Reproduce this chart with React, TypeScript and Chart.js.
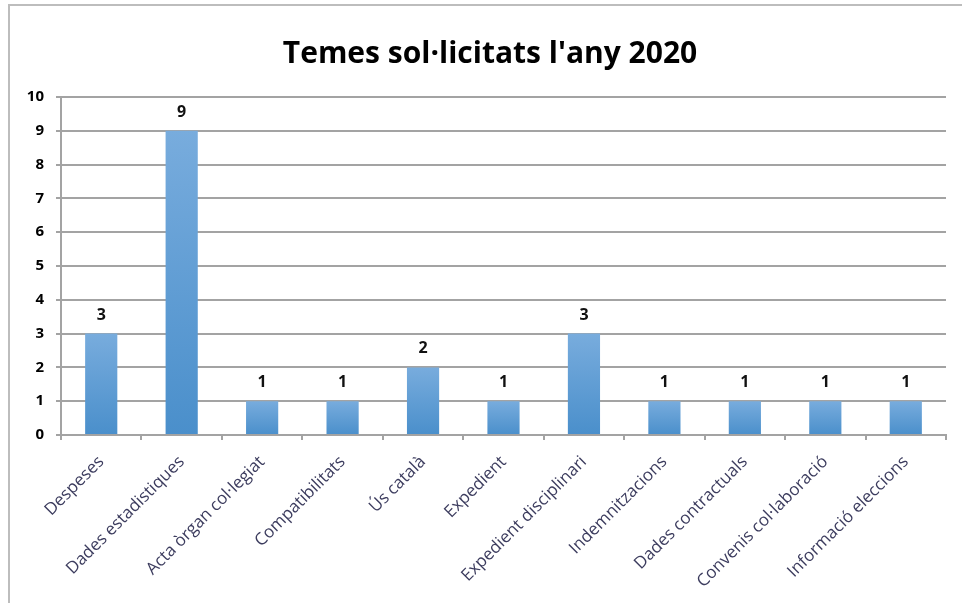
import React, { useEffect, useRef } from "react";
import { Chart, registerables } from "chart.js";

Chart.register(...registerables);

const titleText = "Temes sol·licitats l'any 2020";
const categories = [
  "Despeses",
  "Dades estadistiques",
  "Acta òrgan col·legiat",
  "Compatibilitats",
  "Ús català",
  "Expedient",
  "Expedient disciplinari",
  "Indemnitzacions",
  "Dades contractuals",
  "Convenis col·laboració",
  "Informació eleccions",
];
const values = [3, 9, 1, 1, 2, 1, 3, 1, 1, 1, 1];
const yMin = 0;
const yMax = 10;
const yStep = 1;

const valueLabels = {
  id: "valueLabels",
  afterDatasetsDraw(chart: any) {
    const ctx = chart.ctx;
    const meta = chart.getDatasetMeta(0);
    ctx.save();
    ctx.font = "bold 16px 'Open Sans', sans-serif";
    ctx.fillStyle = "#111111";
    ctx.textAlign = "center";
    ctx.textBaseline = "alphabetic";
    meta.data.forEach((bar: any, i: number) => {
      ctx.fillText(String(values[i]), bar.x, bar.y - 14);
    });
    ctx.restore();
  },
};

const titleDraw = {
  id: "titleDraw",
  afterDraw(chart: any) {
    const ctx = chart.ctx;
    ctx.save();
    ctx.font = "bold 30px 'Open Sans', sans-serif";
    ctx.fillStyle = "#000000";
    ctx.textAlign = "center";
    ctx.textBaseline = "alphabetic";
    ctx.fillText(titleText, 490, 63);
    ctx.restore();
  },
};

export default function App() {
  const ref = useRef<HTMLCanvasElement | null>(null);
  useEffect(() => {
    if (!ref.current) return;
    const chart = new Chart(ref.current, {
      type: "bar",
      data: {
        labels: categories,
        datasets: [
          {
            data: values,
            barPercentage: 0.4,
            categoryPercentage: 1,
            backgroundColor: (c: any) => {
              const ch = c.chart;
              const ys = ch.scales?.y;
              if (!ch.chartArea || !ys || c.raw == null) return "#5b9bd5";
              const top = ys.getPixelForValue(c.raw);
              const bottom = ys.getPixelForValue(0);
              const g = ch.ctx.createLinearGradient(0, top, 0, bottom);
              g.addColorStop(0, "#78acdd");
              g.addColorStop(1, "#4a8fcb");
              return g;
            },
            borderWidth: 0,
          },
        ],
      },
      options: {
        responsive: false,
        animation: false,
        devicePixelRatio: 1,
        layout: { padding: { left: 10, right: 16, top: 97, bottom: 0 } },
        plugins: {
          legend: { display: false },
          tooltip: { enabled: false },
          title: { display: false },
        },
        scales: {
          x: {
            afterFit: (s: any) => {
              s.height = 168;
            },
            grid: {
              drawOnChartArea: false,
              drawTicks: true,
              tickLength: 5,
              color: "#a3a3a3",
              lineWidth: 2,
              offset: true,
            },
            border: { color: "#a3a3a3", width: 2 },
            ticks: {
              minRotation: 45,
              maxRotation: 45,
              autoSkip: false,
              padding: 12,
              color: "#3c3c5e",
              font: { family: "'Open Sans', sans-serif", size: 17 },
            },
          },
          y: {
            min: yMin,
            max: yMax,
            afterFit: (s: any) => {
              s.width = 51;
            },
            grid: {
              drawTicks: true,
              tickLength: 5,
              color: "#a3a3a3",
              lineWidth: 2,
            },
            border: { color: "#a3a3a3", width: 2 },
            ticks: {
              stepSize: yStep,
              padding: 12,
              color: "#000000",
              font: { family: "'Open Sans', sans-serif", size: 15, weight: "bold" },
            },
          },
        },
      },
      plugins: [valueLabels, titleDraw],
    });
    return () => chart.destroy();
  }, []);
  return (
    <div style={{ position: "absolute", left: 0, top: 0, width: 962, height: 603, background: "#ffffff" }}>
      <div
        style={{
          position: "absolute",
          left: 8,
          top: 4,
          right: 0,
          bottom: 0,
          borderTop: "2px solid #bdbdbd",
          borderLeft: "2px solid #bdbdbd",
        }}
      />
      <canvas ref={ref} width={962} height={603} style={{ position: "absolute", left: 0, top: 0, width: 962, height: 603 }} />
    </div>
  );
}
